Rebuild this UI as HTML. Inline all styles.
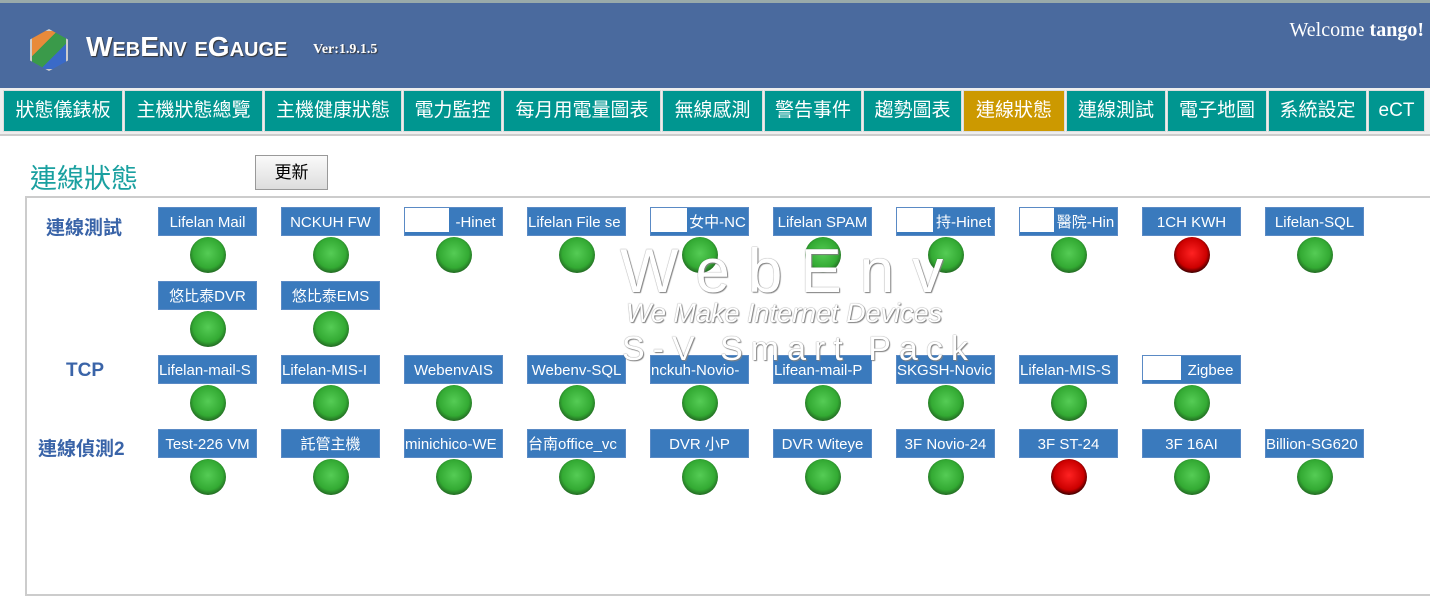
<!DOCTYPE html>
<html><head><meta charset="utf-8"><style>
*{margin:0;padding:0;box-sizing:border-box}
body{width:1430px;height:572px;overflow:hidden;background:#fff;position:relative;font-family:"Liberation Sans","Noto Sans CJK TC",sans-serif}
.hdr{position:absolute;left:0;top:0;width:1430px;height:88px;background:#4a6a9e;border-top:3px solid #9aa}
.logo{position:absolute;left:30px;top:26px;width:38px;height:42px;background:linear-gradient(135deg,#e88a3a 0 35%,#3a9a4a 35% 65%,#3a6ac8 65%);clip-path:polygon(50% 0,100% 25%,100% 75%,50% 100%,0 75%,0 25%);border:2px solid #ccc}
.title{position:absolute;left:86px;top:28px;color:#fff;font:bold 28px "Liberation Sans",sans-serif;font-variant:small-caps;text-shadow:1px 1px 1px #333}
.ver{position:absolute;left:313px;top:39px;color:#fff;font:bold 14px "Liberation Serif",serif;text-shadow:1px 1px 1px #333}
.wel{position:absolute;right:6px;top:16px;color:#fff;font:20px "Liberation Serif",serif}
.nav{position:absolute;left:0;top:88px;width:1430px;height:48px;background:#eee;border-bottom:2px solid #ccc}
.tab{position:absolute;top:2px;height:42px;background:#009690;border:1px solid #ddd;color:#fff;font-size:19px;line-height:40px;text-align:center;white-space:nowrap;overflow:hidden}
.tab.on{background:#cc9900}
.h1{position:absolute;left:30px;top:157px;color:#1aa0a0;font-size:27px}
.btn{position:absolute;left:255px;top:155px;width:73px;height:35px;border:1px solid #999;background:linear-gradient(#fafafa,#ddd);font-size:17px;text-align:center;line-height:33px}
.box{position:absolute;left:25px;top:196px;width:1410px;height:400px;border:2px solid #ccc}
.sec{position:absolute;color:#3a64a8;font-size:19px;font-weight:bold}
.lb{position:absolute;width:99px;height:29px;background:#3a7abd;color:#fff;font-size:15px;line-height:29px;text-align:center;white-space:nowrap;overflow:hidden;border:1px solid #5a8ac5}
.lb i{position:absolute;left:0;top:0;height:24px;background:#fff}
.c{position:absolute;width:36px;height:36px;border-radius:50%;background:radial-gradient(circle at 50% 45%,#5c5 0,#3a3 55%,#262 75%,#555 90%,#999 100%)}
.c.r{background:radial-gradient(circle at 50% 45%,#f22 0,#c00 55%,#300 75%,#111 90%,#888 100%)}
.wm{position:absolute;color:#fff;text-shadow:0 0 1px #555,1px 1px 1px #888;white-space:nowrap}
</style></head><body>
<div class="hdr"><div class="logo"></div><div class="title">WebEnv eGauge</div><div class="ver">Ver:1.9.1.5</div><div class="wel">Welcome <b>tango!</b></div></div>
<div class="nav">
<div class="tab" style="left:3px;width:120px">狀態儀錶板</div>
<div class="tab" style="left:124px;width:139px">主機狀態總覽</div>
<div class="tab" style="left:264px;width:138px">主機健康狀態</div>
<div class="tab" style="left:403px;width:99px">電力監控</div>
<div class="tab" style="left:503px;width:158px">每月用電量圖表</div>
<div class="tab" style="left:662px;width:101px">無線感測</div>
<div class="tab" style="left:764px;width:98px">警告事件</div>
<div class="tab" style="left:863px;width:99px">趨勢圖表</div>
<div class="tab on" style="left:963px;width:102px">連線狀態</div>
<div class="tab" style="left:1066px;width:100px">連線測試</div>
<div class="tab" style="left:1167px;width:100px">電子地圖</div>
<div class="tab" style="left:1268px;width:99px">系統設定</div>
<div class="tab" style="left:1368px;width:57px">eCT</div>
</div>
<div class="h1">連線狀態</div>
<div class="btn">更新</div>
<div class="box"></div>
<div class="sec" style="left:46px;top:213px">連線測試</div>
<div class="sec" style="left:66px;top:360px">TCP</div>
<div class="sec" style="left:38px;top:434px">連線偵測2</div>

<div class="lb" style="left:158px;top:207px">Lifelan Mail</div>
<div class="lb" style="left:281px;top:207px">NCKUH FW</div>
<div class="lb" style="left:404px;top:207px"><span style="padding-left:44px">-Hinet</span><i style="width:44px"></i></div>
<div class="lb" style="left:527px;top:207px;text-align:left">Lifelan File se</div>
<div class="lb" style="left:650px;top:207px"><span style="padding-left:36px">女中-NC</span><i style="width:36px"></i></div>
<div class="lb" style="left:773px;top:207px">Lifelan SPAM</div>
<div class="lb" style="left:896px;top:207px"><span style="padding-left:36px">持-Hinet</span><i style="width:36px"></i></div>
<div class="lb" style="left:1019px;top:207px"><span style="padding-left:34px">醫院-Hin</span><i style="width:34px"></i></div>
<div class="lb" style="left:1142px;top:207px">1CH KWH</div>
<div class="lb" style="left:1265px;top:207px">Lifelan-SQL</div>
<div class="c" style="left:190px;top:237px"></div>
<div class="c" style="left:313px;top:237px"></div>
<div class="c" style="left:436px;top:237px"></div>
<div class="c" style="left:559px;top:237px"></div>
<div class="c" style="left:682px;top:237px"></div>
<div class="c" style="left:805px;top:237px"></div>
<div class="c" style="left:928px;top:237px"></div>
<div class="c" style="left:1051px;top:237px"></div>
<div class="c r" style="left:1174px;top:237px"></div>
<div class="c" style="left:1297px;top:237px"></div>
<div class="lb" style="left:158px;top:281px">悠比泰DVR</div>
<div class="lb" style="left:281px;top:281px">悠比泰EMS</div>
<div class="c" style="left:190px;top:311px"></div>
<div class="c" style="left:313px;top:311px"></div>
<div class="lb" style="left:158px;top:355px;text-align:left">Lifelan-mail-S</div>
<div class="lb" style="left:281px;top:355px;text-align:left">Lifelan-MIS-I</div>
<div class="lb" style="left:404px;top:355px">WebenvAIS</div>
<div class="lb" style="left:527px;top:355px">Webenv-SQL</div>
<div class="lb" style="left:650px;top:355px;text-align:left">nckuh-Novio-</div>
<div class="lb" style="left:773px;top:355px;text-align:left">Lifean-mail-P</div>
<div class="lb" style="left:896px;top:355px;text-align:left">SKGSH-Novic</div>
<div class="lb" style="left:1019px;top:355px;text-align:left">Lifelan-MIS-S</div>
<div class="lb" style="left:1142px;top:355px"><span style="padding-left:38px">Zigbee</span><i style="width:38px"></i></div>
<div class="c" style="left:190px;top:385px"></div>
<div class="c" style="left:313px;top:385px"></div>
<div class="c" style="left:436px;top:385px"></div>
<div class="c" style="left:559px;top:385px"></div>
<div class="c" style="left:682px;top:385px"></div>
<div class="c" style="left:805px;top:385px"></div>
<div class="c" style="left:928px;top:385px"></div>
<div class="c" style="left:1051px;top:385px"></div>
<div class="c" style="left:1174px;top:385px"></div>
<div class="lb" style="left:158px;top:429px">Test-226 VM</div>
<div class="lb" style="left:281px;top:429px">託管主機</div>
<div class="lb" style="left:404px;top:429px;text-align:left">minichico-WE</div>
<div class="lb" style="left:527px;top:429px;text-align:left">台南office_vc</div>
<div class="lb" style="left:650px;top:429px">DVR 小P</div>
<div class="lb" style="left:773px;top:429px">DVR Witeye</div>
<div class="lb" style="left:896px;top:429px">3F Novio-24</div>
<div class="lb" style="left:1019px;top:429px">3F ST-24</div>
<div class="lb" style="left:1142px;top:429px">3F 16AI</div>
<div class="lb" style="left:1265px;top:429px;text-align:left">Billion-SG620</div>
<div class="c" style="left:190px;top:459px"></div>
<div class="c" style="left:313px;top:459px"></div>
<div class="c" style="left:436px;top:459px"></div>
<div class="c" style="left:559px;top:459px"></div>
<div class="c" style="left:682px;top:459px"></div>
<div class="c" style="left:805px;top:459px"></div>
<div class="c" style="left:928px;top:459px"></div>
<div class="c r" style="left:1051px;top:459px"></div>
<div class="c" style="left:1174px;top:459px"></div>
<div class="c" style="left:1297px;top:459px"></div>

<div class="wm" style="left:620px;top:236px;font-size:62px;letter-spacing:18px">WebEnv</div>
<div class="wm" style="left:626px;top:298px;font-size:27px;font-style:italic">We Make Internet Devices</div>
<div class="wm" style="left:622px;top:330px;font-size:34px;letter-spacing:8px">S-V Smart Pack</div>
</body></html>
